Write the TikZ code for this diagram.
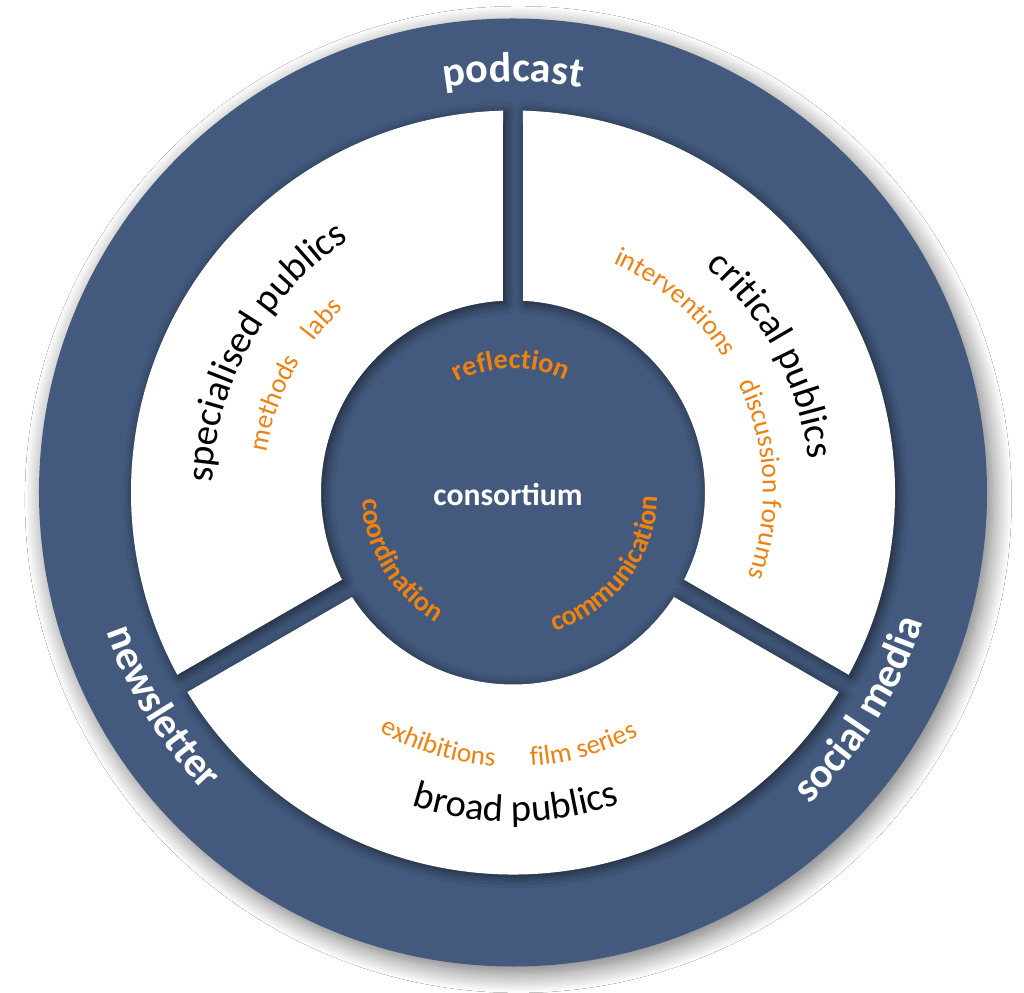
\documentclass[tikz,border=0pt]{standalone}
\usepackage{fontspec}
\setmainfont{Carlito}
\usetikzlibrary{decorations.text,shadows.blur}
\definecolor{ringblue}{HTML}{435A7E}
\definecolor{accent}{HTML}{EE8210}
\newcommand{\ringfont}{\bfseries\fontsize{24}{24}\selectfont\color{white}}
\newcommand{\pubfont}{\fontsize{22}{22}\selectfont\color{black}}
\newcommand{\actfont}{\fontsize{15.5}{15.5}\selectfont\color{accent}}
\newcommand{\corefont}{\bfseries\fontsize{16}{16}\selectfont\color{accent}}
\newcommand{\curvetext}[4]{%
  \path[decorate, decoration={text along path, text align=center, text={#4}}]
    (#2:#1) arc[start angle=#2, end angle=#3, radius=#1];}
\tikzset{
  ringdisc/.style={fill=ringblue, blur shadow={shadow xshift=3pt, shadow yshift=-4pt,
                   shadow blur radius=11pt, shadow blur steps=14, shadow opacity=55}},
  sectorbox/.style={fill=white, blur shadow={shadow xshift=1.5pt, shadow yshift=-1.5pt,
                    shadow blur radius=6pt, shadow blur steps=10, shadow opacity=60}},
  hubtext/.style={text=white, font=\bfseries\fontsize{18}{18}\selectfont}}

\begin{document}
\begin{tikzpicture}[x=0.02cm, y=0.02cm]
  \path[use as bounding box, fill=white] (-513,-500.5) rectangle (511,492.5);
  \path[ringdisc] (0,0) circle (474);
  \foreach \a in {90,210,330}
    \path[sectorbox] (\a+1.5:382) arc[start angle=\a+1.5, end angle=\a+118.5, radius=382]
      -- (\a+117:192) arc[start angle=\a+117, end angle=\a+3, radius=192] -- cycle;
  \node[hubtext] (hub) at (-5,-2) {consortium};
  \curvetext{411}{130}{50}{|\ringfont|podcast}
  \curvetext{430}{180}{243}{|\ringfont|newsletter}
  \curvetext{430}{298}{358}{|\ringfont|social media}
  \curvetext{301}{205}{96}{|\pubfont|specialised publics}
  \curvetext{297}{78}{-22}{|\pubfont|critical publics}
  \curvetext{329}{225}{316}{|\pubfont|broad publics}
  \curvetext{250}{190}{129}{|\actfont|methods}
  \curvetext{250}{160}{115.4}{|\actfont|labs}
  \curvetext{250}{85}{14}{|\actfont|interventions}
  \curvetext{250}{45}{-39}{|\actfont|discussion forums}
  \curvetext{274}{225}{282}{|\actfont|exhibitions}
  \curvetext{274}{262}{309}{|\actfont|film series}
  \curvetext{124}{150}{32}{|\corefont|reflection}
  \curvetext{151}{160}{262}{|\corefont|coordination}
  \curvetext{145}{265}{380}{|\corefont|communication}
\end{tikzpicture}
\end{document}
